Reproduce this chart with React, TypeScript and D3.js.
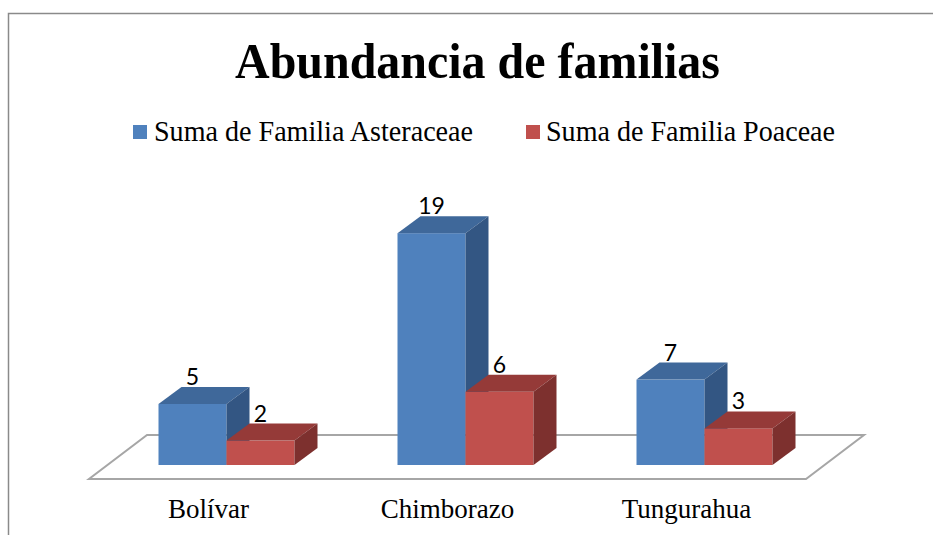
import React from "react";
import * as d3 from "d3";

const categories = ["Bolívar", "Chimborazo", "Tungurahua"];
const seriesNames = ["Suma de Familia Asteraceae", "Suma de Familia Poaceae"];
const asteraceae = [5, 19, 7];
const poaceae = [2, 6, 3];
const title = "Abundancia de familias";

const W = 933;
const H = 535;

const faceColors = [
  { front: "#4F81BD", top: "#3F689A", side: "#335683" },
  { front: "#C0504D", top: "#953A38", side: "#7D302E" },
];

export default function App() {
  const floorFront = { x0: 89, x1: 806, y: 479 };
  const floorDepth = { dx: 58, dy: -44 };
  const barShift = { dx: 18, dy: -14 };
  const barDepth = { dx: 23, dy: -17 };
  const barW = 68;

  const x = d3.scaleBand<string>().domain(categories).range([floorFront.x0, floorFront.x1]).padding(0);
  const base = floorFront.y + barShift.dy;
  const y = d3.scaleLinear().domain([0, 20]).range([base, base - 244]);

  const series = [asteraceae, poaceae];

  const floorPts = [
    [floorFront.x0, floorFront.y],
    [floorFront.x1, floorFront.y],
    [floorFront.x1 + floorDepth.dx, floorFront.y + floorDepth.dy],
    [floorFront.x0 + floorDepth.dx, floorFront.y + floorDepth.dy],
  ];
  const line = d3.line();

  const bars: React.ReactNode[] = [];
  const labels: React.ReactNode[] = [];
  categories.forEach((c, ci) => {
    const center = (x(c) as number) + x.bandwidth() / 2 + barShift.dx;
    series.forEach((vals, si) => {
      const v = vals[ci];
      const x0 = center - barW + si * barW;
      const x1 = x0 + barW;
      const yt = y(v);
      const yb = y(0);
      const col = faceColors[si];
      const dx = barDepth.dx;
      const dy = barDepth.dy;
      bars.push(
        <g key={`b${ci}-${si}`}>
          <rect x={x0} y={yt} width={barW} height={yb - yt} fill={col.front} />
          <path
            d={line([[x0, yt], [x0 + dx, yt + dy], [x1 + dx, yt + dy], [x1, yt]])! + "Z"}
            fill={col.top}
          />
          <path
            d={line([[x1, yt], [x1 + dx, yt + dy], [x1 + dx, yb + dy], [x1, yb]])! + "Z"}
            fill={col.side}
          />
        </g>
      );
      labels.push(
        <text
          key={`l${ci}-${si}`}
          x={(x0 + x1) / 2}
          y={yt + dy - 2}
          textAnchor="middle"
          fontFamily="Lato, 'Open Sans', sans-serif"
          fontSize={23}
          fill="#000"
        >
          {v}
        </text>
      );
    });
  });

  return (
    <svg
      width={W}
      height={H}
      style={{ position: "absolute", left: 0, top: 0, background: "#fff" }}
    >
      <rect x={8.5} y={13.5} width={W + 20} height={H + 20} fill="#fff" stroke="#8a8a8a" strokeWidth={1.5} />
      <text
        x={477.5}
        y={78}
        textAnchor="middle"
        fontFamily="'Liberation Serif', 'Times New Roman', serif"
        fontWeight="bold"
        fontSize={51}
        textLength={485}
        lengthAdjust="spacingAndGlyphs"
      >
        {title}
      </text>
      {/* legend */}
      <rect x={133} y={125} width={14} height={14} fill={faceColors[0].front} />
      <text
        x={154}
        y={141}
        fontFamily="'Liberation Serif', 'Times New Roman', serif"
        fontSize={29}
        textLength={319}
        lengthAdjust="spacingAndGlyphs"
      >
        {seriesNames[0]}
      </text>
      <rect x={526} y={125} width={14} height={14} fill={faceColors[1].front} />
      <text
        x={546}
        y={141}
        fontFamily="'Liberation Serif', 'Times New Roman', serif"
        fontSize={29}
        textLength={289}
        lengthAdjust="spacingAndGlyphs"
      >
        {seriesNames[1]}
      </text>
      {/* floor */}
      <path d={line(floorPts as [number, number][])! + "Z"} fill="#fff" stroke="#a6a6a6" strokeWidth={2} />
      {bars}
      {labels}
      {categories.map((c) => (
        <text
          key={c}
          x={(x(c) as number) + x.bandwidth() / 2}
          y={518}
          textAnchor="middle"
          fontFamily="'Liberation Serif', 'Times New Roman', serif"
          fontSize={27}
        >
          {c}
        </text>
      ))}
    </svg>
  );
}
